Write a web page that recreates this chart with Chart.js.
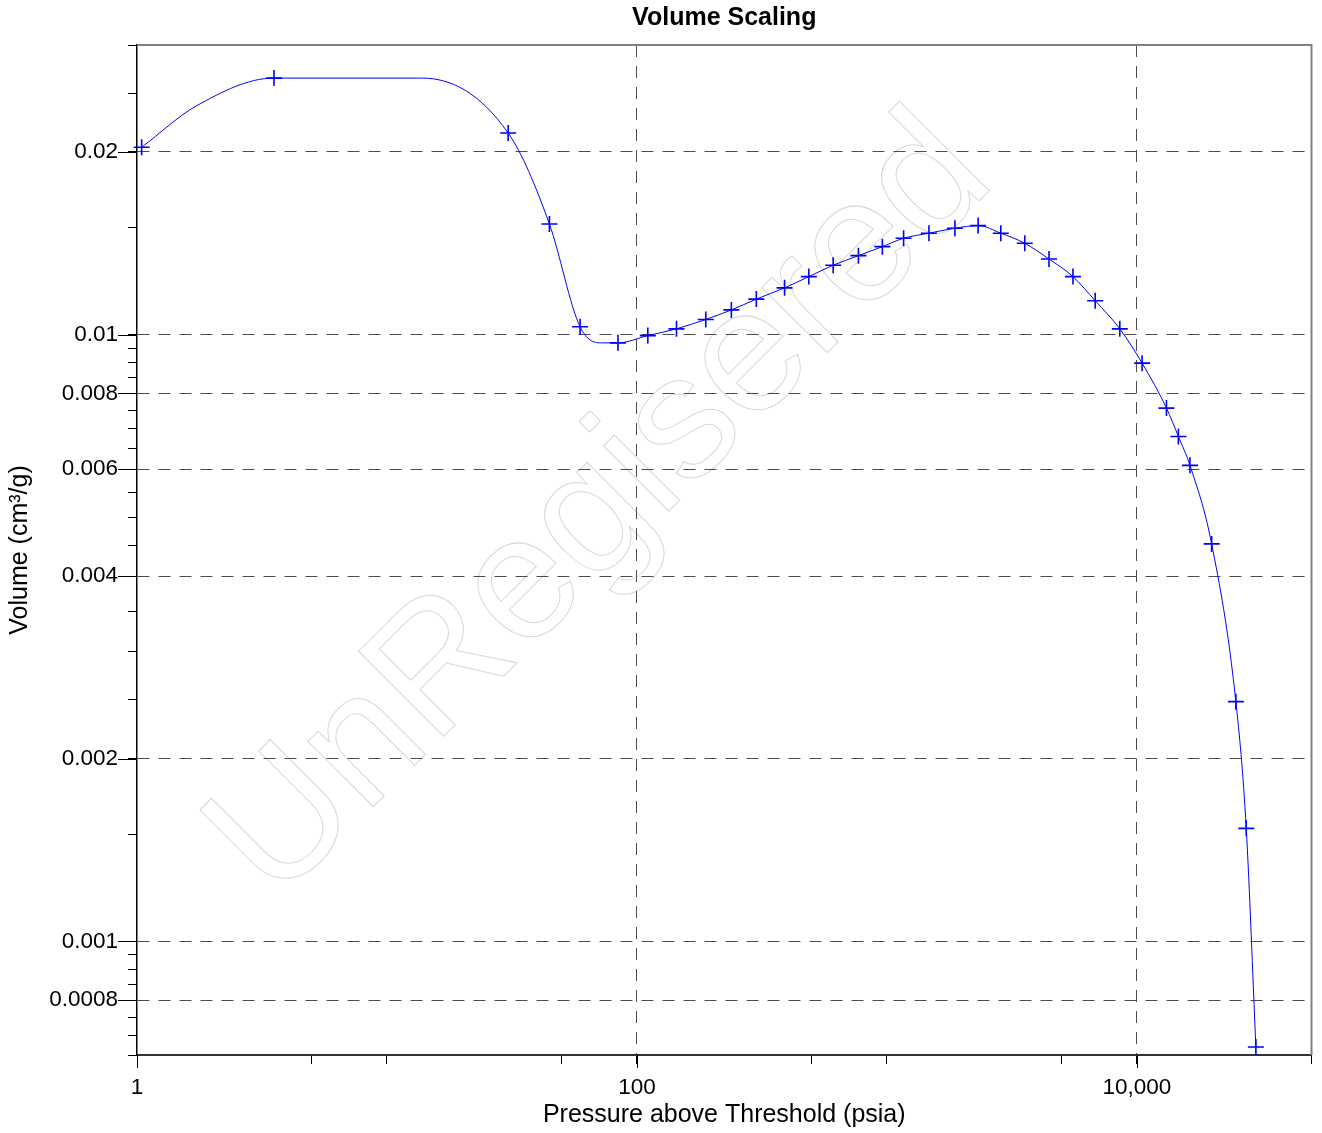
<!DOCTYPE html>
<html>
<head>
<meta charset="utf-8">
<script src="https://cdn.jsdelivr.net/npm/chart.js@4.4.1/dist/chart.umd.min.js"></script>
<style>
html,body{margin:0;padding:0;background:#fff;}
#wrap{width:1322px;height:1133px;}
</style>
</head>
<body>
<div id="wrap"><canvas id="c" width="1322" height="1133"></canvas></div>
<script>
// ---- data ----
const pressure = [1.044, 3.532, 30.55, 44.67, 59.24, 84.0, 110.6, 144.0, 188.6, 238.8,
  300.5, 389.8, 487.4, 609.9, 769.6, 959.4, 1167, 1474, 1872, 2319,
  2857, 3563, 4454, 5553, 6817, 8552, 10500, 13140, 14670, 16320,
  19930, 24910, 27410, 29950];
const volume = [0.02035, 0.02646, 0.02148, 0.01521, 0.01030, 0.00969, 0.00996, 0.01022, 0.01059, 0.01098,
  0.01144, 0.01194, 0.01246, 0.01301, 0.01349, 0.01396, 0.01441, 0.01469, 0.01497, 0.01512,
  0.01469, 0.01414, 0.01332, 0.01246, 0.01137, 0.01022, 0.008972, 0.007566, 0.006794, 0.006088,
  0.004519, 0.002484, 0.001536, 0.000670];
// extra knots of the drawn curve (first arc, flat top, flat bottom)
const curveExtraPressure = [1.731, 13.83, 71.56];
const curveExtraVolume = [0.02382, 0.02646, 0.00969];

// ---- axis ticks ----
const xTickValues = [1, 5, 10, 50, 100, 500, 1000, 5000, 10000, 50000];
const xLabelValues = [1, 100, 10000];
const xLabelTexts = ['1', '100', '10,000'];
const xGridValues = [100, 10000];
const yLabelValues = [0.0008, 0.001, 0.002, 0.004, 0.006, 0.008, 0.01, 0.02];
const yLabelTexts = ['0.0008', '0.001', '0.002', '0.004', '0.006', '0.008', '0.01', '0.02'];

const yTickValues = [];
for (let k = 13; k <= 20; k++) yTickValues.push(+(k * 0.00005).toFixed(6));
for (let k = 3; k <= 20; k++) yTickValues.push(+(k * 0.0005).toFixed(6));
for (let k = 3; k <= 6; k++) yTickValues.push(+(k * 0.005).toFixed(6));

const FONT = "'Liberation Sans', Arial, Helvetica, sans-serif";
const GRID = '#4d4d4d';
const near = (a, b) => Math.abs(a - b) <= Math.abs(b) * 1e-6;
const idxIn = (arr, v) => arr.findIndex(a => near(v, a));

const markerData = pressure.map((p, i) => ({x: p, y: volume[i]}));
const curveData = markerData.concat(curveExtraPressure.map((p, i) => ({x: p, y: curveExtraVolume[i]})))
  .sort((a, b) => a.x - b.x);

const watermark = {
  id: 'watermark',
  beforeDraw(chart) {
    const ctx = chart.ctx;
    ctx.save();
    ctx.translate(636.5, 543.5);
    ctx.rotate(-Math.PI / 4);
    ctx.font = '175px ' + FONT;
    ctx.textAlign = 'center';
    ctx.textBaseline = 'alphabetic';
    ctx.strokeStyle = '#d8d8d8';
    ctx.lineWidth = 1;
    ctx.strokeText('UnRegisered', 0, 0);
    ctx.restore();
  }
};

const frame = {
  id: 'frame',
  beforeDatasetsDraw(chart) {
    const {ctx, chartArea: a, scales} = chart;
    ctx.save();
    ctx.strokeStyle = '#808080';
    ctx.lineWidth = 2;
    ctx.beginPath();
    ctx.moveTo(a.left, a.top);
    ctx.lineTo(a.right, a.top);
    ctx.lineTo(a.right, a.bottom);
    ctx.stroke();
    ctx.strokeStyle = '#000';
    ctx.lineWidth = 1;
    yLabelValues.forEach(v => {
      const p = Math.round(scales.y.getPixelForValue(v)) + 0.5;
      ctx.beginPath(); ctx.moveTo(a.left - 19, p); ctx.lineTo(a.left, p); ctx.stroke();
    });
    xLabelValues.forEach(v => {
      const p = Math.round(scales.x.getPixelForValue(v)) + 0.5;
      ctx.beginPath(); ctx.moveTo(p, a.bottom); ctx.lineTo(p, a.bottom + 13); ctx.stroke();
    });
    ctx.restore();
  }
};

new Chart(document.getElementById('c'), {
  type: 'scatter',
  data: {
    datasets: [
      {
        label: 'curve', data: curveData, showLine: true,
        borderColor: '#0000ff', borderWidth: 1, pointRadius: 0, pointHoverRadius: 0,
        cubicInterpolationMode: 'monotone', fill: false, clip: false, order: 2
      },
      {
        label: 'Volume', data: markerData, showLine: false,
        pointStyle: 'cross', pointRadius: 8, pointHoverRadius: 8,
        borderColor: '#0000ff', backgroundColor: '#0000ff', pointBorderWidth: 1.6,
        clip: false, order: 1
      }
    ]
  },
  options: {
    responsive: false,
    devicePixelRatio: 1,
    animation: false,
    events: [],
    layout: {padding: {left: 0, right: 9, top: 0, bottom: 0}},
    plugins: {
      legend: {display: false},
      tooltip: {enabled: false},
      title: {
        display: true, fullSize: false, text: 'Volume Scaling', color: '#000',
        font: {family: FONT, size: 25, weight: 'bold'}, padding: {top: 3, bottom: 12}
      }
    },
    scales: {
      x: {
        type: 'logarithmic', position: 'bottom', min: 1, max: 50000,
        afterBuildTicks: s => { s.ticks = xTickValues.map(v => ({value: v})); },
        afterFit: s => { s.height = 78; },
        ticks: {
          autoSkip: false, maxRotation: 0, minRotation: 0, padding: 10.5, color: '#000',
          font: {family: FONT, size: 22.5},
          callback: v => { const i = idxIn(xLabelValues, v); return i >= 0 ? xLabelTexts[i] : ''; }
        },
        grid: {
          color: c => (c.tick && idxIn(xGridValues, c.tick.value) >= 0) ? GRID : 'rgba(0,0,0,0)',
          lineWidth: 1, tickLength: 9, tickColor: '#000', tickWidth: 1
        },
        border: {display: true, color: '#333', width: 2, dash: [12, 9]},
        title: {
          display: true, text: 'Pressure above Threshold (psia)', color: '#000',
          font: {family: FONT, size: 25}, padding: {top: 0, bottom: 3}
        }
      },
      y: {
        type: 'logarithmic', position: 'left', min: 0.00065, max: 0.03,
        afterBuildTicks: s => { s.ticks = yTickValues.map(v => ({value: v})); },
        afterFit: s => { s.width = 137; },
        ticks: {
          autoSkip: false, padding: 10, color: '#000',
          font: {family: FONT, size: 22.5},
          callback: v => { const i = idxIn(yLabelValues, v); return i >= 0 ? yLabelTexts[i] : ''; }
        },
        grid: {
          color: c => (c.tick && idxIn(yLabelValues, c.tick.value) >= 0) ? GRID : 'rgba(0,0,0,0)',
          lineWidth: 1, tickLength: 9, tickColor: '#000', tickWidth: 1
        },
        border: {display: true, color: '#000', width: 1.5, dash: [12, 9]},
        title: {
          display: true, text: 'Volume (cm³/g)', color: '#000',
          font: {family: FONT, size: 25}, padding: {top: 5, bottom: 0}
        }
      }
    }
  },
  plugins: [watermark, frame]
});
</script>
</body>
</html>
